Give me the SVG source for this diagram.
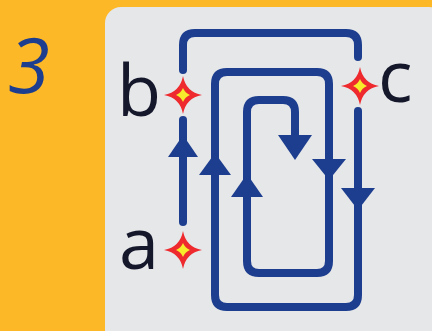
<svg xmlns="http://www.w3.org/2000/svg" width="432" height="331" viewBox="0 0 432 331">
<defs>
<style>
.ln{fill:none;stroke:#1D3E8E;stroke-width:8;stroke-linecap:round;stroke-linejoin:round}
.ah{fill:#1D3E8E}
.lbl{font-family:"Open Sans","DejaVu Sans",sans-serif;font-size:72px;fill:#15172B}
</style>
<g id="star">
<path d="M0,-19 Q3,-3 19,0 Q3,3 0,19 Q-3,3 -19,0 Q-3,-3 0,-19 Z" fill="#EE2A2E"/>
<path d="M0,-7 Q2,-2 7,0 Q2,2 0,7 Q-2,2 -7,0 Q-2,-2 0,-7 Z" fill="#F6EC2C"/>
</g>
</defs>
<rect width="432" height="331" fill="#FDB827"/>
<rect x="105" y="7" width="340" height="340" rx="16" fill="#E6E7E9"/>
<text x="8" y="93" font-family="'Open Sans','DejaVu Sans',sans-serif" font-size="76" font-style="italic" fill="#1D3E8E">3</text>
<g id="connectors">
<path class="ln" d="M183,70 V45 Q183,33 195,33 H346 Q358,33 358,45 V57"/>
<path class="ln" d="M183,120 V222"/>
<path class="ah" d="M183,135 L168,157 L198,157 Z"/>
<path class="ln" d="M358,111 V295 Q358,307 346,307 H227 Q215,307 215,295 V84 Q215,72 227,72 H317 Q329,72 329,84 V261 Q329,273 317,273 H259 Q247,273 247,261 V112 Q247,100 259,100 H283 Q295,100 295,112 V140"/>
<path class="ah" d="M215,153 L199,175 L231,175 Z"/>
<path class="ah" d="M247,174 L231,197 L263,197 Z"/>
<path class="ah" d="M295,160 L278,135 L312,135 Z"/>
<path class="ah" d="M329,180 L312,159 L346,159 Z"/>
<path class="ah" d="M358,210 L341,188 L375,188 Z"/>
</g>
<g id="node-b">
<use href="#star" x="183" y="95"/>
<text class="lbl" x="117" y="116">b</text>
</g>
<g id="node-c">
<use href="#star" x="360" y="86"/>
<text class="lbl" x="378" y="102">c</text>
</g>
<g id="node-a">
<use href="#star" x="183" y="250"/>
<text class="lbl" x="119" y="269">a</text>
</g>
</svg>
